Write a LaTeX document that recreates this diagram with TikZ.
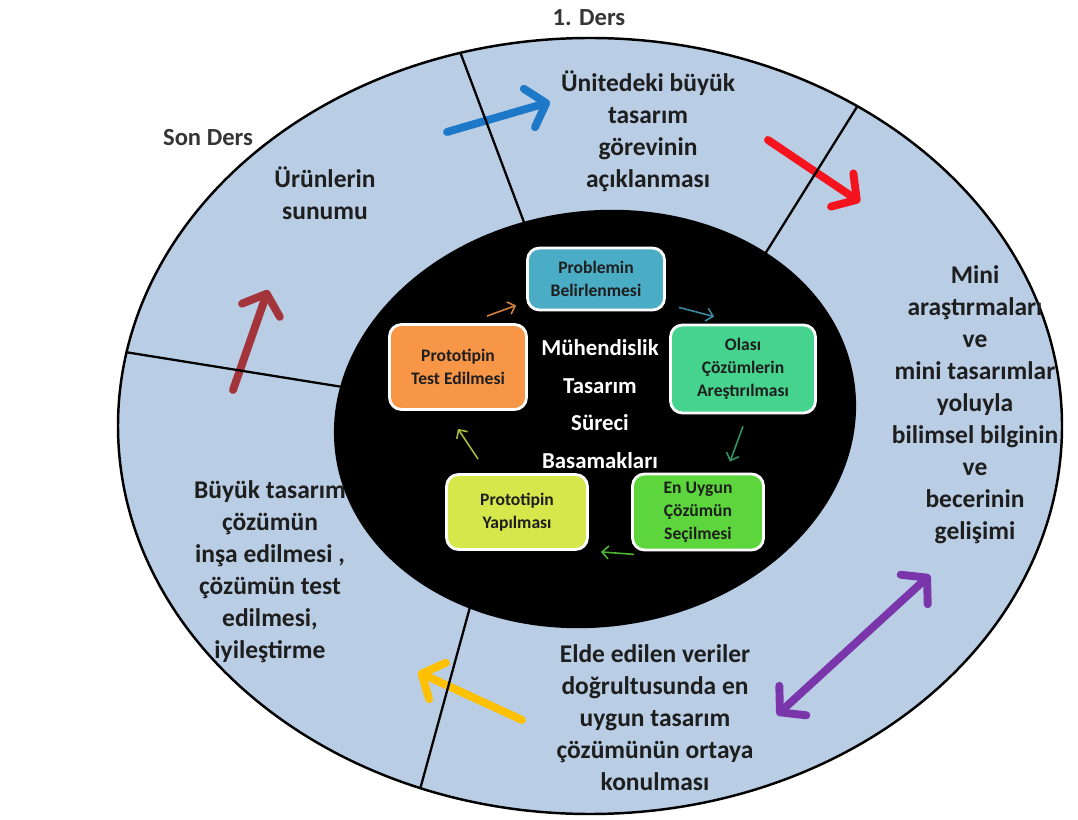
\documentclass[tikz,border=0pt]{standalone}
\usepackage{fontspec}
\setmainfont{Carlito}
\usetikzlibrary{arrows.meta}
\definecolor{ringblue}{HTML}{B9CDE5}
\definecolor{inktext}{HTML}{1E1E1E}
\definecolor{probblue}{HTML}{4BACC6}
\definecolor{olasimint}{HTML}{45D38E}
\definecolor{uygungreen}{HTML}{5CD63C}
\definecolor{yapimlime}{HTML}{D5E84B}
\definecolor{testorange}{HTML}{F79646}
\definecolor{arrblue}{HTML}{1E78C8}
\definecolor{arrred}{HTML}{F5141E}
\definecolor{arrmaroon}{HTML}{A3343A}
\definecolor{arryellow}{HTML}{FFC000}
\definecolor{arrpurple}{HTML}{7A35AA}
\tikzset{
  ringtext/.style={text=inktext, align=center, font=\fontsize{14.5}{18.2}\selectfont\bfseries},
  lesson/.style={text=inktext!90, font=\fontsize{14}{16}\selectfont\bfseries},
  stepbox/.style={draw=white, line width=1.6pt, rounded corners=2.4mm, align=center, text=inktext, font=\fontsize{10}{13}\selectfont\bfseries, inner sep=2pt},
  coretext/.style={text=white, align=center, font=\fontsize{13}{21.5}\selectfont\bfseries},
  divider/.style={draw=black, line width=1.3pt},
  bigarrow/.style={line width=4.5pt, line cap=round, -{Straight Barb[length=3.5mm, width=8mm, line join=round, line cap=round]}},
  twoway/.style={line width=4.5pt, line cap=round, {Straight Barb[length=3.5mm, width=8mm, line join=round, line cap=round]}-{Straight Barb[length=3.5mm, width=8mm, line join=round, line cap=round]}},
  steparrow/.style={line width=0.9pt, -{Straight Barb[length=1.3mm, width=2.6mm]}},
}
\begin{document}
\begin{tikzpicture}[x=0.2mm, y=-0.2mm]
  \useasboundingbox (0,0) rectangle (1078,820);
  \fill[ringblue] (590,426) ellipse [x radius=472, y radius=388];

  \coordinate (blue tail) at (447,132);
  \coordinate (blue tip) at (550,102);
  \coordinate (red tail) at (768,140);
  \coordinate (red tip) at (860,202);
  \coordinate (maroon tail) at (233,390);
  \coordinate (maroon tip) at (268,290);
  \coordinate (yellow tail) at (522,720);
  \coordinate (yellow tip) at (418,672);
  \coordinate (purple low) at (777,715);
  \coordinate (purple high) at (930,575);
  \draw[bigarrow, arrblue] (blue tail) -- (blue tip);
  \draw[bigarrow, arrred] (red tail) -- (red tip);
  \draw[bigarrow, arrmaroon] (maroon tail) -- (maroon tip);
  \draw[bigarrow, arryellow] (yellow tail) -- (yellow tip);
  \draw[twoway, arrpurple] (purple low) -- (purple high);

  \begin{scope}
    \clip (590,426) ellipse [x radius=472, y radius=388];
    \draw[divider] (450,25) -- (540,265);
    \draw[divider] (880,70) -- (740,294);
    \draw[divider] (100,348) -- (380,393);
    \draw[divider] (487,545) -- (410,826);
  \end{scope}
  \draw[line width=1.4pt] (590,426) ellipse [x radius=472, y radius=388];
  \fill[black, rotate around={8:(595,419)}] (595,419) ellipse [x radius=262, y radius=208];

  \node[lesson] (first) at (589,18) {1. Ders};
  \node[lesson] (last) at (208,138) {Son Ders};
  \node[ringtext] (task) at (648,131) {Ünitedeki büyük\\tasarım\\görevinin\\açıklanması};
  \node[ringtext] (present) at (325,193) {Ürünlerin\\sunumu};
  \node[ringtext] (mini) at (975,405) {Mini\\araştırmaları\\ve\\mini tasarımlar\\yoluyla\\bilimsel bilginin\\ve\\becerinin\\gelişimi};
  \node[ringtext] (build) at (270,572) {Büyük tasarım\\çözümün\\inşa edilmesi ,\\çözümün test\\edilmesi,\\iyileştirme};
  \node[ringtext] (best) at (655,718) {Elde edilen veriler\\doğrultusunda en\\uygun tasarım\\çözümünün ortaya\\konulması};

  \node[coretext] (core) at (600,404) {Mühendislik\\Tasarım\\Süreci\\Basamakları};
  \node[stepbox, fill=probblue, minimum width=27.4mm, minimum height=12.4mm] (prob) at (596,279) {Problemin\\Belirlenmesi};
  \node[stepbox, fill=olasimint, minimum width=29mm, minimum height=17.6mm] (olasi) at (743,369) {Olası\\Çözümlerin\\Areştırılması};
  \node[stepbox, fill=uygungreen, minimum width=26.2mm, minimum height=15.2mm] (uygun) at (698,512) {En Uygun\\Çözümün\\Seçilmesi};
  \node[stepbox, fill=yapimlime, minimum width=28.2mm, minimum height=15mm] (yapim) at (517,512) {Prototipin\\Yapılması};
  \node[stepbox, fill=testorange, minimum width=27.4mm, minimum height=17mm] (test) at (458,367) {Prototipin\\Test Edilmesi};

  \draw[steparrow, probblue!80!black] ([xshift=2.6mm, yshift=0.8mm]prob.south east) -- ([xshift=9mm, yshift=1.4mm]olasi.north west);
  \draw[steparrow, olasimint!70!black] ([yshift=-2.4mm]olasi.south) -- ([xshift=6.4mm, yshift=2.2mm]uygun.north);
  \draw[steparrow, uygungreen!85!black] ([xshift=0.6mm, yshift=-0.6mm]uygun.south west) -- ([xshift=2.4mm, yshift=-0.2mm]yapim.south east);
  \draw[steparrow, yapimlime!80!black] ([xshift=6.6mm, yshift=2.8mm]yapim.north west) -- ([yshift=-3.6mm]test.south);
  \draw[steparrow, testorange!85!black] ([xshift=-8.2mm, yshift=1.4mm]test.north east) -- ([xshift=-2mm, yshift=1.2mm]prob.south west);
\end{tikzpicture}
\end{document}
